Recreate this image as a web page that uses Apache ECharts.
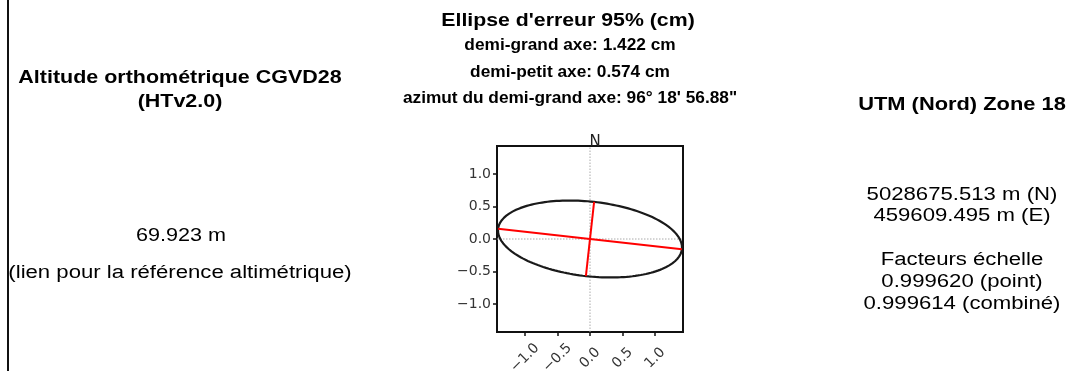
<!DOCTYPE html>
<html><head><meta charset="utf-8">
<script src="https://cdn.jsdelivr.net/npm/echarts@6/dist/echarts.min.js"></script>
<style>html,body{margin:0;padding:0;background:#fff}#c{width:1071px;height:371px}</style>
</head><body><div id="c"></div>
<script>
// ---- data ----
const ellipseTitle = ["Ellipse d'erreur 95% (cm)"];
const ellipseLines = ["demi-grand axe: 1.422 cm", "demi-petit axe: 0.574 cm", "azimut du demi-grand axe: 96° 18' 56.88\""];
const semiAxes = [1.422, 0.574];           // cm
const azimuthDMS = [96, 18, 56.88];        // deg, min, sec
const axisRange = [-1.43, 1.43];
const tickValues = [-1.0, -0.5, 0.0, 0.5, 1.0];
const northLabel = ["N"];
const leftTitle = ["Altitude orthométrique CGVD28", "(HTv2.0)"];
const leftValue = ["69.923 m"];
const leftLink = ["(lien pour la référence altimétrique)"];
const rightTitle = ["UTM (Nord) Zone 18"];
const rightCoords = ["5028675.513 m (N)", "459609.495 m (E)"];
const rightFactors = ["Facteurs échelle", "0.999620 (point)", "0.999614 (combiné)"];

// ---- geometry from the ellipse parameters ----
const az = (azimuthDMS[0] + azimuthDMS[1] / 60 + azimuthDMS[2] / 3600) * Math.PI / 180;
const a = semiAxes[0], b = semiAxes[1];
const dMaj = [Math.sin(az), Math.cos(az)];
const dMin = [Math.sin(az + Math.PI / 2), Math.cos(az + Math.PI / 2)];
const ellipsePts = [];
for (let i = 0; i <= 180; i++) {
  const t = i / 180 * 2 * Math.PI;
  const u = a * Math.cos(t), v = b * Math.sin(t);
  ellipsePts.push([u * dMaj[0] + v * dMin[0], u * dMaj[1] + v * dMin[1]]);
}
const majorLine = [[-a * dMaj[0], -a * dMaj[1]], [a * dMaj[0], a * dMaj[1]]];
const minorLine = [[-b * dMin[0], -b * dMin[1]], [b * dMin[0], b * dMin[1]]];

const fmt = v => (v < 0 ? '\u2212' : '') + Math.abs(v).toFixed(1);
const SANS = 'Liberation Sans, Arial, sans-serif';
const MPL = 'DejaVu Sans, sans-serif';

function txt(x, y, s, size, bold, sx) {
  return { type: 'text', x: x, y: y, scaleX: sx || 1, originX: 0, originY: 0,
    style: { text: s, x: 0, y: 0, fill: '#000', font: (bold ? 'bold ' : '') + size + 'px ' + SANS,
      textAlign: 'center', textVerticalAlign: 'middle' } };
}

const graphics = [
  { type: 'line', shape: { x1: 8, y1: 0, x2: 8, y2: 371 }, style: { stroke: '#111', lineWidth: 2 } },
  txt(568, 21, ellipseTitle[0], 19, true, 1.12),
  txt(570, 46, ellipseLines[0], 16, true, 1.08),
  txt(570, 73, ellipseLines[1], 16, true, 1.08),
  txt(570, 99, ellipseLines[2], 16, true, 1.08),
  txt(180, 78, leftTitle[0], 19, true, 1.13),
  txt(180, 102, leftTitle[1], 19, true, 1.13),
  txt(181, 236, leftValue[0], 18, false, 1.2),
  txt(180, 273, leftLink[0], 18, false, 1.23),
  txt(962, 105, rightTitle[0], 19, true, 1.15),
  txt(962, 195, rightCoords[0], 18, false, 1.23),
  txt(962, 216, rightCoords[1], 18, false, 1.23),
  txt(962, 260, rightFactors[0], 18, false, 1.23),
  txt(962, 282, rightFactors[1], 18, false, 1.23),
  txt(962, 304, rightFactors[2], 18, false, 1.23)
];

const chart = echarts.init(document.getElementById('c'), null, { renderer: 'canvas' });
chart.setOption({
  animation: false,
  backgroundColor: '#fff',
  grid: { left: 497, top: 146, width: 186, height: 186, outerBoundsMode: 'none', containLabel: false,
    show: true, borderColor: '#111', borderWidth: 2, backgroundColor: 'transparent' },
  xAxis: {
    type: 'value', min: axisRange[0], max: axisRange[1], position: 'bottom',
    axisLine: { show: false, onZero: false }, splitLine: { show: false },
    axisTick: { show: true, customValues: tickValues, length: 4, lineStyle: { color: '#111', width: 1.5 } },
    axisLabel: { customValues: tickValues, formatter: fmt, rotate: 45, align: 'center', verticalAlign: 'middle',
      color: '#333', fontFamily: MPL, fontSize: 14, margin: 26 }
  },
  yAxis: {
    type: 'value', min: axisRange[0], max: axisRange[1], position: 'left',
    axisLine: { show: false, onZero: false }, splitLine: { show: false },
    axisTick: { show: true, customValues: tickValues, length: 4, lineStyle: { color: '#111', width: 1.5 } },
    axisLabel: { customValues: tickValues, formatter: fmt, color: '#333', fontFamily: MPL, fontSize: 14, margin: 6 }
  },
  title: { text: northLabel[0], left: 590, top: 130, textAlign: 'center',
    textStyle: { fontFamily: MPL, fontSize: 15, fontWeight: 'normal', color: '#222' } },
  series: [
    { type: 'line', data: [[0, axisRange[0]], [0, axisRange[1]]], showSymbol: false, silent: true,
      lineStyle: { color: '#aaa', width: 1, type: [1.5, 1.5] } },
    { type: 'line', data: [[axisRange[0], 0], [axisRange[1], 0]], showSymbol: false, silent: true,
      lineStyle: { color: '#aaa', width: 1, type: [1.5, 1.5] } },
    { type: 'line', data: ellipsePts, showSymbol: false, silent: true,
      lineStyle: { color: '#1a1a1a', width: 2.2 } },
    { type: 'line', data: majorLine, showSymbol: false, silent: true,
      lineStyle: { color: '#ff0000', width: 2 } },
    { type: 'line', data: minorLine, showSymbol: false, silent: true,
      lineStyle: { color: '#ff0000', width: 2 } }
  ],
  graphic: graphics
});
</script></body></html>
